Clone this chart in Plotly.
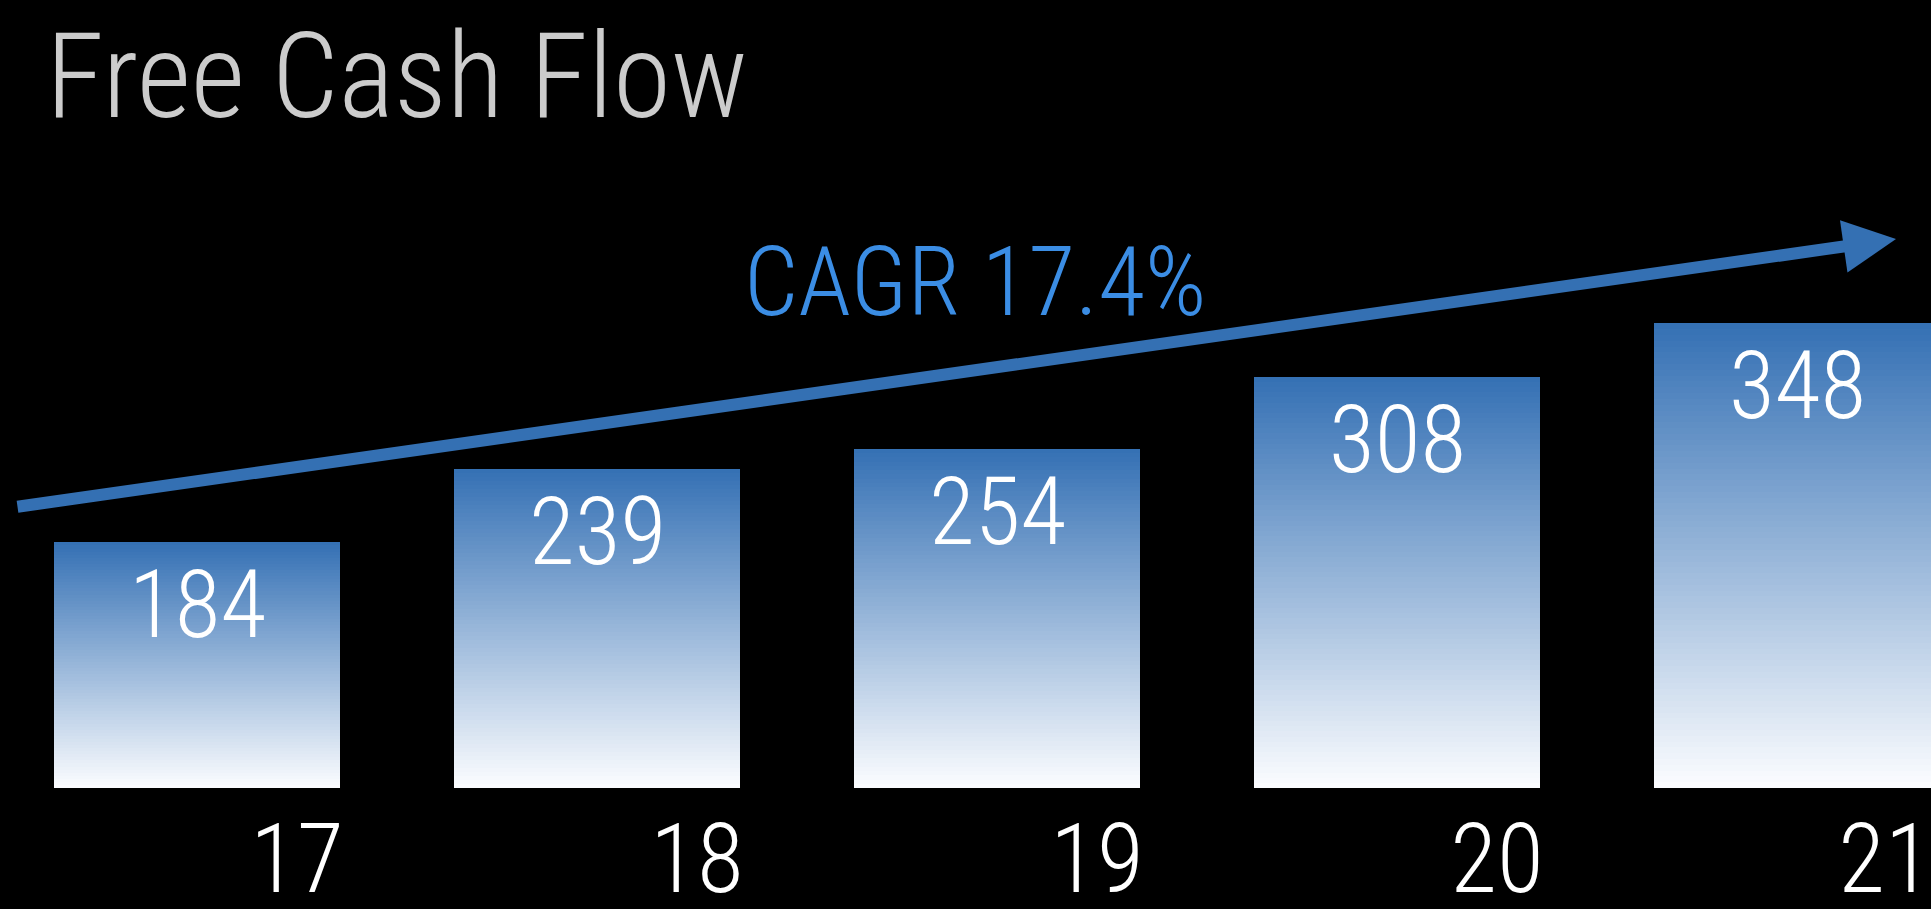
import plotly.graph_objects as go

# Free cash flow by fiscal year
years = ["17", "18", "19", "20", "21"]
fcf = [184, 239, 254, 308, 348]
cagr_label = "CAGR 17.4%"
title_text = "Free Cash Flow"

W, H = 1931, 909
FONT = "Roboto Condensed, Liberation Sans Narrow, Arial Narrow, DejaVu Sans Condensed, sans-serif"

# vertical gradient per bar: stacked slices from deep blue (top) to white (bottom)
N_SLICES = 80
top_rgb = (52, 112, 180)
bot_rgb = (252, 253, 255)


def mix(t):
    return "rgb({},{},{})".format(*[round(b + (a - b) * t) for a, b in zip(top_rgb, bot_rgb)])


x_idx = list(range(len(years)))
fig = go.Figure()
for k in range(N_SLICES):
    t = (k + 0.5) / N_SLICES  # 0 at bottom, 1 at top
    fig.add_trace(go.Bar(
        x=x_idx,
        y=[v / N_SLICES for v in fcf],
        marker=dict(color=mix(t), line=dict(width=0)),
        hoverinfo="skip",
        showlegend=False,
    ))

# value labels at the top of each bar
for i, v in enumerate(fcf):
    fig.add_annotation(
        x=i, y=v, xref="x", yref="y",
        text=str(v), showarrow=False,
        yanchor="top", xanchor="center", yshift=-6,
        font=dict(family=FONT, size=94, color="white", weight=300),
    )

# plot area: full width, bottom at bar baseline
plot_h = 788
px_per_unit_x = 400.0
x0 = -197 / px_per_unit_x
x1 = x0 + W / px_per_unit_x
y1 = plot_h / 1.335

# year labels sit to the right of each bar, kept inside the frame
tick_pos = [min(i + 0.25, x1 - 0.115) for i in x_idx]

# growth arrow
fig.add_annotation(
    x=1896 / W, y=1 - 239 / plot_h, xref="paper", yref="paper",
    ax=16 - 1896, ay=507 - 239, axref="pixel", ayref="pixel",
    text="", showarrow=True, arrowhead=2, arrowsize=0.88,
    arrowwidth=12, arrowcolor="#3470b3", standoff=0, startstandoff=0,
)
fig.add_annotation(
    x=742 / W, y=1 - 224 / plot_h, xref="paper", yref="paper",
    text=cagr_label, showarrow=False, xanchor="left", yanchor="top",
    font=dict(family=FONT, size=96, color="#3b8de4", weight=300),
)

fig.update_layout(
    width=W, height=H,
    paper_bgcolor="black", plot_bgcolor="black",
    margin=dict(l=0, r=0, t=0, b=H - plot_h, pad=0, autoexpand=False),
    barmode="stack", bargap=0.285,
    showlegend=False,
    title=dict(
        text=title_text, xref="container", yref="container",
        x=46 / W, y=1 - 34 / H, xanchor="left", yanchor="top", pad=dict(t=0, b=0, l=0, r=0),
        font=dict(family=FONT, size=118, color="#cccccc", weight=300),
    ),
    xaxis=dict(
        range=[x0, x1], tickvals=tick_pos, ticktext=years,
        showgrid=False, zeroline=False, showline=False, ticks="",
        automargin=False, ticklabelstandoff=7, ticklabeloverflow="allow",
        tickfont=dict(family=FONT, size=96, color="white", weight=300),
    ),
    yaxis=dict(range=[0, y1], visible=False, showgrid=False, zeroline=False, automargin=False),
)

fig.write_html("out.html")
